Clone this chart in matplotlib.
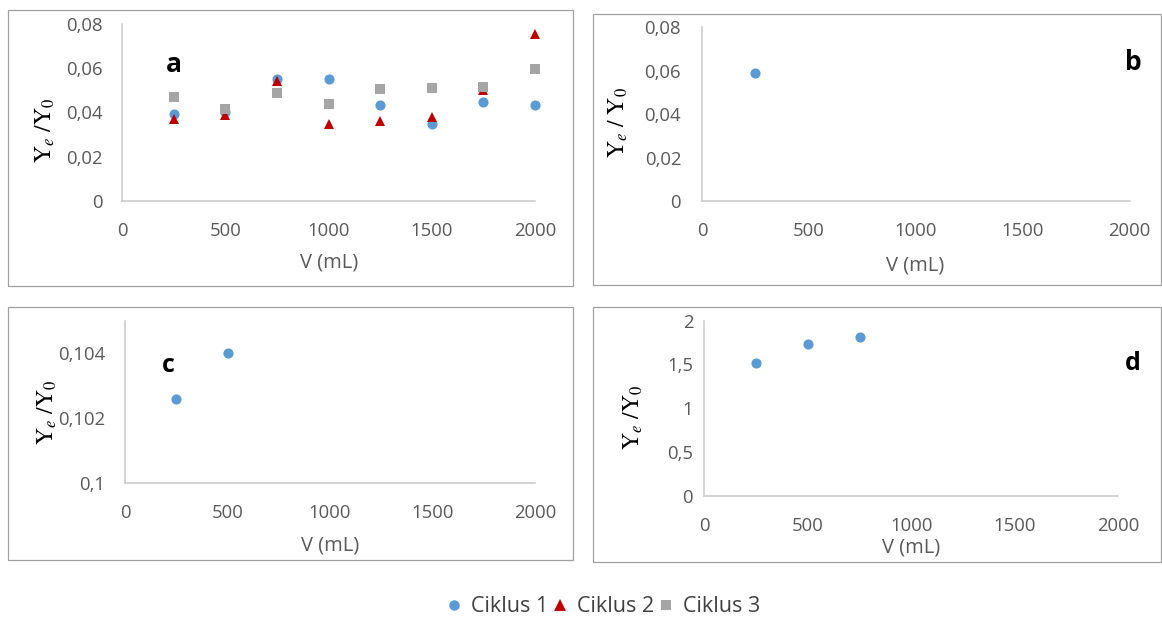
import matplotlib
matplotlib.use("Agg")
import matplotlib.pyplot as plt
from matplotlib.lines import Line2D
from matplotlib.patches import Rectangle

plt.rcParams['font.family'] = ['Open Sans', 'DejaVu Sans']
plt.rcParams['mathtext.fontset'] = 'stix'

# data
volumes = [250, 500, 750, 1000, 1250, 1500, 1750, 2000]
a_ciklus1 = [0.0394, 0.0400, 0.0553, 0.0549, 0.0433, 0.0345, 0.0449, 0.0435]
a_ciklus2 = [0.0371, 0.0388, 0.0541, 0.0345, 0.0362, 0.0379, 0.0500, 0.0753]
a_ciklus3 = [0.0470, 0.0417, 0.0488, 0.0436, 0.0505, 0.0508, 0.0515, 0.0595]
b_vol = [250]
b_ciklus1 = [0.0590]
c_vol = [250, 500]
c_ciklus1 = [0.10258, 0.1040]
d_vol = [250, 500, 750]
d_ciklus1 = [1.514, 1.734, 1.814]

x_ticks = [0, 500, 1000, 1500, 2000]
ab_yticks = [0, 0.02, 0.04, 0.06, 0.08]
ab_ylabels = ['0', '0,02', '0,04', '0,06', '0,08']
c_yticks = [0.1, 0.102, 0.104]
c_ylabels = ['0,1', '0,102', '0,104']
d_yticks = [0, 0.5, 1, 1.5, 2]
d_ylabels = ['0', '0,5', '1', '1,5', '2']
series_names = ['Ciklus 1', 'Ciklus 2', 'Ciklus 3']

BLUE = '#5B9BD5'
RED = '#C00000'
GRAY = '#A5A5A5'
TXT = '#595959'

W, H = 1162, 619
fig = plt.figure(figsize=(W / 100, H / 100), dpi=100)


def fx(x):
    return x / W


def fy(y):
    return 1 - y / H


def make_axes(l, r, t, b):
    ax = fig.add_axes([fx(l), fy(b), fx(r) - fx(l), fy(t) - fy(b)])
    for s in ['top', 'right']:
        ax.spines[s].set_visible(False)
    for s in ['left', 'bottom']:
        ax.spines[s].set_color('#C9C9C9')
        ax.spines[s].set_linewidth(1.1)
    ax.set_xlim(0, 2000)
    ax.set_xticks(x_ticks)
    ax.set_xticklabels([str(v) for v in x_ticks])
    ax.tick_params(length=0, labelsize=13.3, labelcolor=TXT)
    ax.tick_params(axis='x', pad=15)
    return ax


def panel_box(l, r, t, b):
    fig.add_artist(Rectangle((fx(l), fy(b)), fx(r) - fx(l), fy(t) - fy(b),
                             transform=fig.transFigure, fill=False,
                             edgecolor='#A0A0A0', linewidth=0.9))


mk = dict(linestyle='none', markeredgewidth=0, clip_on=False)

# panel boxes
panel_box(8, 573, 10, 286)
panel_box(593, 1161, 14, 285)
panel_box(8, 573, 307, 560)
panel_box(593, 1161, 307, 562)

# a
ax = make_axes(122.3, 535, 24, 200.7)
ax.plot(volumes, a_ciklus1, 'o', color=BLUE, markersize=7.3, **mk)
ax.plot(volumes, a_ciklus2, '^', color=RED, markersize=7.8, **mk)
ax.plot(volumes, a_ciklus3, 's', color=GRAY, markersize=6.5, **mk)
ax.set_ylim(0, 0.08)
ax.set_yticks(ab_yticks)
ax.set_yticklabels(ab_ylabels)
ax.tick_params(axis='y', pad=14)
ax.set_xlabel('V (mL)', fontsize=14.5, color=TXT, va='center')
ax.xaxis.set_label_coords(fx(329), fy(263), transform=fig.transFigure)
ax.set_ylabel(r'$\mathrm{Y}_e\ /\mathrm{Y}_0$', fontsize=17, color='black', va='center')
ax.yaxis.set_label_coords(fx(46), fy(130), transform=fig.transFigure)
fig.text(fx(174), fy(65), 'a', fontsize=19, fontweight='bold', ha='center', va='center')

# b
ax = make_axes(702, 1129.5, 27.3, 201)
ax.plot(b_vol, b_ciklus1, 'o', color=BLUE, markersize=7.3, **mk)
ax.set_ylim(0, 0.08)
ax.set_yticks(ab_yticks)
ax.set_yticklabels(ab_ylabels)
ax.tick_params(axis='y', pad=15)
ax.set_xlabel('V (mL)', fontsize=14.5, color=TXT, va='center')
ax.xaxis.set_label_coords(fx(915), fy(266), transform=fig.transFigure)
ax.set_ylabel(r'$\mathrm{Y}_e\ /\ \mathrm{Y}_0$', fontsize=17, color='black', va='center')
ax.yaxis.set_label_coords(fx(619), fy(122), transform=fig.transFigure)
fig.text(fx(1133), fy(63), 'b', fontsize=19, fontweight='bold', ha='center', va='center')

# c
ax = make_axes(125, 535, 320.7, 483.3)
ax.plot(c_vol, c_ciklus1, 'o', color=BLUE, markersize=7.3, **mk)
ax.set_ylim(0.1, 0.105)
ax.set_yticks(c_yticks)
ax.set_yticklabels(c_ylabels)
ax.tick_params(axis='y', pad=14)
ax.set_xlabel('V (mL)', fontsize=14.5, color=TXT, va='center')
ax.xaxis.set_label_coords(fx(330), fy(545), transform=fig.transFigure)
ax.set_ylabel(r'$\mathrm{Y}_e\ /\mathrm{Y}_0$', fontsize=17, color='black', va='center')
ax.yaxis.set_label_coords(fx(48), fy(412), transform=fig.transFigure)
fig.text(fx(168), fy(366), 'c', fontsize=18, fontweight='bold', ha='center', va='center')

# d
ax = make_axes(704.3, 1118.3, 320.7, 495.7)
ax.plot(d_vol, d_ciklus1, 'o', color=BLUE, markersize=7.3, **mk)
ax.set_ylim(0, 2)
ax.set_yticks(d_yticks)
ax.set_yticklabels(d_ylabels)
ax.tick_params(axis='y', pad=8)
ax.set_xlabel('V (mL)', fontsize=14.5, color=TXT, va='center')
ax.xaxis.set_label_coords(fx(911), fy(548), transform=fig.transFigure)
ax.set_ylabel(r'$\mathrm{Y}_e\ /\mathrm{Y}_0$', fontsize=17, color='black', va='center')
ax.yaxis.set_label_coords(fx(634), fy(417), transform=fig.transFigure)
fig.text(fx(1133), fy(363), 'd', fontsize=18, fontweight='bold', ha='center', va='center')

# legend
handles = [
    Line2D([], [], marker='o', color=BLUE, linestyle='none', markersize=7.5, markeredgewidth=0),
    Line2D([], [], marker='^', color=RED, linestyle='none', markersize=8.5, markeredgewidth=0),
    Line2D([], [], marker='s', color=GRAY, linestyle='none', markersize=6.5, markeredgewidth=0),
]
fig.legend(handles, series_names, loc='center', bbox_to_anchor=(fx(604), fy(607)),
           ncol=3, frameon=False, fontsize=15.5, handlelength=0.6, handletextpad=0.5,
           columnspacing=0.25, labelcolor='#404040')

fig.savefig('out.png', dpi=100)
